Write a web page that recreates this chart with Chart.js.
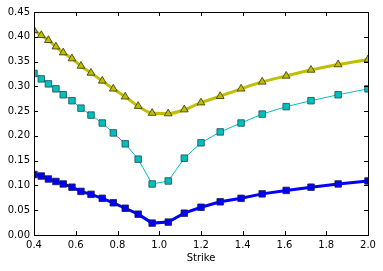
<!DOCTYPE html>
<html>
<head>
<meta charset="utf-8">
<script src="https://cdn.jsdelivr.net/npm/chart.js@4/dist/chart.umd.min.js"></script>
<style>
  html, body { margin: 0; padding: 0; background: #fff; }
  #wrap { width: 383px; height: 271px; }
</style>
</head>
<body>
<div id="wrap"><canvas id="smileChart"></canvas></div>
<script>
// ----- データ -----
const strikes = [0.40, 0.435, 0.469, 0.505, 0.54, 0.582, 0.625, 0.673, 0.727, 0.78, 0.837, 0.899,
                 0.966, 1.043, 1.12, 1.20, 1.292, 1.392, 1.493, 1.608, 1.727, 1.857, 2.0];
const blueVals = [0.122, 0.119, 0.113, 0.108, 0.103, 0.0965, 0.088, 0.082, 0.074, 0.065, 0.054, 0.042,
                  0.024, 0.026, 0.044, 0.056, 0.067, 0.074, 0.083, 0.090, 0.0965, 0.103, 0.109];
const cyanVals = [0.326, 0.315, 0.305, 0.295, 0.283, 0.271, 0.256, 0.242, 0.226, 0.206, 0.184, 0.153,
                  0.103, 0.109, 0.155, 0.186, 0.208, 0.226, 0.244, 0.259, 0.271, 0.283, 0.295];
const yellowVals = [0.413, 0.403, 0.393, 0.380, 0.368, 0.356, 0.341, 0.327, 0.311, 0.295, 0.279, 0.260,
                    0.246, 0.245, 0.253, 0.267, 0.280, 0.295, 0.309, 0.321, 0.333, 0.344, 0.354];
const xTicks = [0.4, 0.6, 0.8, 1.0, 1.2, 1.4, 1.6, 1.8, 2.0];
const yTicks = [0.00, 0.05, 0.10, 0.15, 0.20, 0.25, 0.30, 0.35, 0.40, 0.45];

function toPoints(vals) {
    return strikes.map((s, i) => ({ x: s, y: vals[i] }));
}

// 枠線と内向きの目盛りを描くプラグイン（matplotlib風）
const frameTicks = {
    id: 'frameTicks',
    afterDatasetsDraw(chart) {
        const { ctx, chartArea: a, scales } = chart;
        const len = 4;
        ctx.save();
        ctx.strokeStyle = '#000';
        ctx.lineWidth = 1;
        ctx.beginPath();
        xTicks.forEach(v => {
            const px = Math.round(scales.x.getPixelForValue(v)) + 0.5;
            ctx.moveTo(px, a.bottom); ctx.lineTo(px, a.bottom - len);
            ctx.moveTo(px, a.top); ctx.lineTo(px, a.top + len);
        });
        yTicks.forEach(v => {
            const py = Math.round(scales.y.getPixelForValue(v)) + 0.5;
            ctx.moveTo(a.left, py); ctx.lineTo(a.left + len, py);
            ctx.moveTo(a.right, py); ctx.lineTo(a.right - len, py);
        });
        ctx.stroke();
        ctx.strokeRect(Math.round(a.left) + 0.5, Math.round(a.top) + 0.5,
                       Math.round(a.right - a.left), Math.round(a.bottom - a.top));
        ctx.restore();
    }
};

Chart.defaults.font.family = '"DejaVu Sans", sans-serif';
Chart.defaults.font.size = 10;
Chart.defaults.color = '#000';

new Chart(document.getElementById('smileChart'), {
    type: 'line',
    data: {
        datasets: [
            {
                data: toPoints(yellowVals),
                borderColor: '#bfbf00',
                borderWidth: 3,
                cubicInterpolationMode: 'monotone',
                pointStyle: 'triangle',
                pointRadius: 4.5,
                pointBackgroundColor: '#bfbf00',
                pointBorderColor: '#333300',
                pointBorderWidth: 0.8,
                clip: 0
            },
            {
                data: toPoints(cyanVals),
                borderColor: '#00bfbf',
                borderWidth: 1,
                tension: 0,
                pointStyle: 'rect',
                pointRadius: 4.6,
                pointBackgroundColor: '#00bfbf',
                pointBorderColor: '#1a4d4d',
                pointBorderWidth: 0.8,
                clip: 0
            },
            {
                data: toPoints(blueVals),
                borderColor: '#0000ff',
                borderWidth: 3,
                tension: 0,
                pointStyle: 'rect',
                pointRadius: 4.6,
                pointBackgroundColor: '#0000ff',
                pointBorderColor: '#1a1a4d',
                pointBorderWidth: 0.8,
                clip: 0
            }
        ]
    },
    options: {
        responsive: true,
        maintainAspectRatio: false,
        animation: false,
        layout: { padding: { top: 12, right: 15, left: 0, bottom: 0 } },
        plugins: {
            legend: { display: false },
            tooltip: { enabled: false }
        },
        scales: {
            x: {
                type: 'linear',
                min: 0.4,
                max: 2.0,
                afterBuildTicks: s => { s.ticks = xTicks.map(v => ({ value: v })); },
                afterFit: s => { s.height = 36; },
                grid: { display: false, drawTicks: false },
                border: { display: false },
                ticks: { padding: 4, callback: v => v.toFixed(1), maxRotation: 0, autoSkip: false },
                title: { display: true, text: 'Strike', padding: { top: 0, bottom: 7 } }
            },
            y: {
                min: 0,
                max: 0.45,
                afterBuildTicks: s => { s.ticks = yTicks.map(v => ({ value: v })); },
                afterFit: s => { s.width = 34; },
                grid: { display: false, drawTicks: false },
                border: { display: false },
                ticks: { padding: 4, callback: v => v.toFixed(2), autoSkip: false }
            }
        }
    },
    plugins: [frameTicks]
});
</script>
</body>
</html>
